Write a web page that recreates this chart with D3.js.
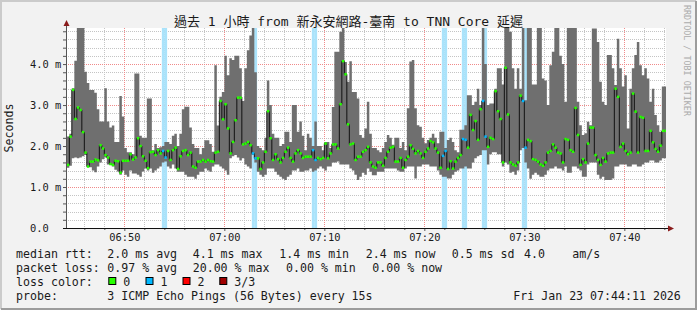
<!DOCTYPE html>
<html>
<head>
<meta charset="utf-8">
<script src="https://cdn.jsdelivr.net/npm/d3@7"></script>
<style>
    body { margin: 0; background: #fff; }
    text { font-family: "DejaVu Sans Mono", "Noto Sans CJK TC", monospace; fill: #1a1a1a; }
</style>
</head>
<body>
<svg id="chart" width="697" height="310"></svg>
<script>
// time window and probe step
var windowStart = new Date(Date.UTC(2026, 0, 23, 6, 44, 10));
var windowEnd = new Date(Date.UTC(2026, 0, 23, 7, 44, 10));
var firstStep = new Date(Date.UTC(2026, 0, 23, 6, 44, 15));
var stepSeconds = 15;

// median rtt per step (ms)
var medianMs = [
    1.54, 2.23, 3.37, 2.66, 2.94, 2.88, 2.34, 1.84, 1.50, 1.62, 1.62, 1.67, 1.65, 2.02, 1.94, 1.78, 1.72, 1.56, 1.54, 1.64,
    1.63, 1.35, 1.64, 1.64, 1.64, 1.80, 1.67, 1.72, 2.19, 2.00, 1.75, 1.64, 1.46, 1.85, 1.86, 1.78, 1.90, 1.82, 1.88, 1.72,
    1.88, 1.66, 1.90, 1.96, 1.44, 1.75, 1.88, 1.90, 1.78, 1.84, 1.50, 1.47, 1.62, 1.62, 1.66, 1.62, 1.66, 1.63, 1.62, 1.84,
    1.86, 3.10, 2.65, 3.02, 2.43, 1.82, 2.10, 2.63, 3.18, 3.18, 2.04, 2.06, 2.10, 2.02, 1.82, 1.70, 1.70, 1.44, 1.60, 1.86,
    2.85, 2.19, 1.66, 1.80, 1.68, 1.60, 1.71, 1.86, 1.96, 1.71, 1.62, 1.82, 1.90, 1.82, 1.71, 1.74, 1.74, 1.74, 1.90, 1.66,
    1.71, 1.68, 1.71, 2.06, 1.70, 1.82, 2.04, 2.04, 1.94, 3.02, 4.07, 3.75, 2.53, 2.04, 2.06, 1.66, 1.74, 1.74, 1.86, 1.90,
    1.98, 1.60, 1.50, 1.47, 1.60, 1.60, 1.52, 1.71, 1.86, 1.96, 1.98, 1.62, 1.62, 1.71, 1.47, 1.66, 1.74, 2.02, 1.93, 1.82,
    1.88, 1.82, 1.71, 1.86, 1.94, 2.12, 2.09, 1.94, 1.84, 1.47, 1.76, 1.88, 1.44, 1.63, 1.45, 1.62, 1.71, 1.78, 2.17, 2.15,
    1.96, 2.76, 2.39, 2.61, 2.15, 2.90, 3.10, 2.23, 1.98, 2.20, 2.17, 3.34, 2.85, 2.66, 1.60, 3.91, 2.77, 1.60, 1.55, 1.52,
    1.60, 3.23, 3.10, 1.96, 2.15, 2.12, 1.68, 1.66, 1.62, 1.55, 1.52, 1.60, 1.84, 1.88, 2.04, 1.96, 1.84, 1.82, 1.60, 2.17,
    2.15, 1.90, 1.86, 2.93, 2.27, 1.54, 1.68, 1.60, 2.06, 2.45, 2.45, 1.78, 1.66, 1.54, 1.71, 1.62, 1.82, 1.84, 1.84, 3.40,
    3.20, 1.98, 2.06, 1.88, 1.80, 1.84, 3.28, 2.84, 1.84, 2.71, 2.69, 1.88, 1.88, 2.37, 2.09, 1.93, 1.86, 2.01, 2.37, 2.37
];
// fastest ping per step (ms)
var minMs = [
    1.47, 1.52, 1.70, 1.72, 1.70, 1.72, 1.75, 1.78, 1.50, 1.48, 1.40, 1.36, 1.50, 1.60, 1.68, 1.72, 1.55, 1.55, 1.50, 1.42,
    1.38, 1.30, 1.40, 1.30, 1.25, 1.40, 1.33, 1.33, 1.30, 1.25, 1.38, 1.45, 1.40, 1.45, 1.35, 1.40, 1.45, 1.50, 1.60, 1.62,
    1.50, 1.45, 1.55, 1.45, 1.37, 1.37, 1.37, 1.30, 1.25, 1.25, 1.25, 1.20, 1.30, 1.37, 1.37, 1.45, 1.40, 1.37, 1.50, 1.55,
    1.55, 1.50, 1.45, 1.40, 1.30, 1.70, 1.75, 1.78, 1.72, 1.65, 1.70, 1.55, 1.50, 1.45, 1.78, 1.60, 1.37, 1.30, 1.25, 1.30,
    1.45, 1.45, 1.45, 1.37, 1.30, 1.25, 1.20, 1.17, 1.25, 1.30, 1.40, 1.40, 1.45, 1.37, 1.37, 1.40, 1.40, 1.45, 1.37, 1.40,
    1.45, 1.50, 1.45, 1.40, 1.50, 1.50, 1.60, 1.60, 1.62, 1.55, 1.55, 1.55, 1.55, 1.45, 1.40, 1.30, 1.17, 1.25, 1.35, 1.30,
    1.45, 1.37, 1.29, 1.29, 1.37, 1.37, 1.37, 1.45, 1.45, 1.45, 1.45, 1.45, 1.40, 1.37, 1.37, 1.45, 1.50, 1.50, 1.50, 1.21,
    1.50, 1.50, 1.55, 1.55, 1.55, 1.50, 1.50, 1.50, 1.40, 1.30, 1.25, 1.25, 1.21, 1.21, 1.30, 1.37, 1.40, 1.45, 1.45, 1.50,
    1.45, 1.45, 1.60, 1.70, 1.75, 1.78, 1.90, 1.90, 1.55, 1.80, 1.85, 1.85, 1.80, 1.80, 1.50, 1.60, 1.55, 1.35, 1.37, 1.30,
    1.40, 1.90, 1.95, 1.60, 1.45, 1.20, 1.30, 1.35, 1.30, 1.25, 1.25, 1.30, 1.40, 1.45, 1.45, 1.50, 1.45, 1.45, 1.40, 1.50,
    1.35, 1.35, 1.50, 1.50, 1.45, 1.40, 1.25, 1.25, 1.55, 1.60, 1.60, 1.60, 1.30, 1.20, 1.25, 1.17, 1.17, 1.17, 1.21, 1.50,
    1.50, 1.55, 1.55, 1.55, 1.50, 1.50, 1.55, 1.55, 1.50, 1.50, 1.55, 1.60, 1.60, 1.65, 1.65, 1.60, 1.60, 1.65, 1.70, 1.70
];
// slowest ping per step (ms)
var maxMs = [
    2.23, 2.30, 3.41, 4.08, 4.88, 4.88, 4.88, 3.81, 3.54, 3.37, 3.37, 3.30, 2.90, 2.60, 2.60, 3.41, 2.60, 2.45, 2.50, 2.10,
    2.10, 3.22, 2.72, 1.95, 1.85, 1.85, 1.80, 3.77, 3.77, 2.25, 2.20, 2.20, 3.16, 3.16, 1.90, 2.05, 1.95, 1.97, 2.00, 2.10,
    2.10, 2.05, 2.25, 2.30, 2.00, 2.30, 2.90, 2.96, 2.96, 2.45, 2.05, 1.95, 1.95, 1.80, 1.95, 2.14, 2.14, 2.05, 1.86, 3.97,
    2.50, 3.20, 3.32, 4.20, 3.73, 4.14, 4.10, 4.20, 4.20, 3.90, 3.10, 3.90, 4.34, 4.70, 4.88, 3.80, 2.00, 1.95, 1.90, 2.20,
    3.60, 3.00, 2.30, 2.20, 2.20, 2.00, 2.05, 2.35, 2.35, 2.10, 3.00, 3.00, 2.35, 2.60, 2.25, 1.90, 2.30, 2.20, 2.00, 2.60,
    2.00, 2.00, 1.90, 2.10, 2.10, 1.95, 2.95, 4.30, 4.30, 4.79, 4.88, 4.05, 3.57, 4.07, 3.32, 3.32, 3.16, 2.27, 2.20, 2.43,
    3.08, 2.30, 1.95, 1.95, 1.90, 1.85, 1.95, 2.10, 2.27, 2.20, 2.03, 2.20, 2.20, 1.95, 2.10, 1.90, 2.92, 4.06, 4.10, 2.92,
    2.51, 2.47, 2.20, 2.07, 2.15, 2.20, 2.30, 2.20, 2.07, 2.35, 2.35, 1.95, 2.15, 2.20, 2.10, 1.90, 1.85, 2.40, 2.40, 2.51,
    3.24, 3.24, 3.00, 3.08, 3.40, 3.00, 4.88, 4.00, 3.00, 3.04, 3.04, 3.40, 3.90, 3.90, 3.50, 4.88, 4.88, 4.79, 3.90, 3.40,
    3.90, 3.40, 4.88, 3.12, 4.88, 4.88, 3.50, 3.50, 4.88, 4.88, 3.65, 3.60, 3.00, 3.97, 4.30, 4.88, 4.88, 4.20, 4.00, 3.08,
    4.88, 4.88, 4.88, 4.88, 3.08, 2.51, 2.27, 2.31, 2.59, 2.51, 4.87, 4.87, 4.54, 3.57, 3.08, 3.00, 4.22, 4.22, 3.90, 3.49,
    4.62, 3.90, 3.45, 3.73, 2.43, 3.40, 3.90, 4.22, 4.54, 3.97, 3.73, 3.90, 3.65, 3.08, 3.40, 2.76, 2.51, 2.35, 3.45, 3.45
];
// steps where one of three pings was lost
var lossSteps = [38, 39, 74, 75, 98, 99, 150, 151, 158, 159, 166, 167, 182, 183];

var yTicks = [0, 1, 2, 3, 4];
var titleText = "過去 1 小時 from 新永安網路-臺南 to TNN Core 延遲";
var rttLegend = ["median rtt:", "2.0 ms avg", "4.1 ms max", "1.4 ms min", "2.4 ms now", "0.5 ms sd", "4.0", "am/s"];
var lossLegend = ["packet loss:", "0.97 % avg", "20.00 % max", "0.00 % min", "0.00 % now"];
var lossColorNames = ["0", "1", "2", "3/3"];
var lossColors = ["#26ff00", "#00b8ff", "#ff0000", "#a00000"];
var probeText = "3 ICMP Echo Pings (56 Bytes) every 15s";
var stampText = "Fri Jan 23 07:44:11 2026";

var svg = d3.select("#chart");
var plotLeft = 66, plotRight = 666, plotTop = 28, plotBottom = 228;

var x = d3.scaleUtc().domain([windowStart, windowEnd]).range([plotLeft, plotRight]);
var y = d3.scaleLinear().domain([0, 4.88]).range([plotBottom, plotTop]);

var steps = medianMs.map(function (m, i) {
    var t0 = d3.utcSecond.offset(firstStep, i * stepSeconds);
    return {
        i: i,
        t0: t0,
        t1: d3.utcSecond.offset(t0, stepSeconds),
        median: m,
        min: minMs[i],
        max: maxMs[i],
        loss: lossSteps.indexOf(i) >= 0 ? 1 : 0
    };
});
// extra point so the last step gets its full width in the step curves
var stepEdges = steps.concat([{
    t0: steps[steps.length - 1].t1,
    median: steps[steps.length - 1].median,
    min: steps[steps.length - 1].min,
    max: steps[steps.length - 1].max
}]);

// background and frame
svg.append("rect").attr("width", 697).attr("height", 310).attr("fill", "#f2f2f2");
svg.append("path").attr("d", "M1,309 V1 H696").attr("fill", "none").attr("stroke", "#cbcbcb").attr("stroke-width", 2);
svg.append("path").attr("d", "M1,309 H696 V1").attr("fill", "none").attr("stroke", "#9c9c9c").attr("stroke-width", 2);
svg.append("rect").attr("x", plotLeft).attr("y", plotTop)
    .attr("width", plotRight - plotLeft).attr("height", plotBottom - plotTop).attr("fill", "#fff");

svg.append("clipPath").attr("id", "plotClip")
    .append("rect").attr("x", plotLeft).attr("y", plotTop)
    .attr("width", plotRight - plotLeft).attr("height", plotBottom - plotTop);

// grid
var grid = svg.append("g").attr("clip-path", "url(#plotClip)");
var minorY = d3.range(1, 25).map(function (d) { return d * 0.2; })
    .filter(function (d) { return Math.abs(d - Math.round(d)) > 0.01; });
var minorX = d3.utcMinute.every(2).range(windowStart, windowEnd)
    .filter(function (d) { return d.getUTCMinutes() % 10 !== 0; });
var majorX = d3.utcMinute.every(10).range(windowStart, windowEnd);

var hLine = function (sel, color) {
    sel.attr("x1", plotLeft).attr("x2", plotRight)
        .attr("y1", function (d) { return Math.round(y(d)) + 0.5; })
        .attr("y2", function (d) { return Math.round(y(d)) + 0.5; })
        .attr("stroke", color).attr("stroke-dasharray", "1,1");
};
var vLine = function (sel, color) {
    sel.attr("y1", plotTop).attr("y2", plotBottom)
        .attr("x1", function (d) { return Math.round(x(d)) + 0.5; })
        .attr("x2", function (d) { return Math.round(x(d)) + 0.5; })
        .attr("stroke", color).attr("stroke-dasharray", "1,1");
};
grid.selectAll("line.minorY").data(minorY).enter().append("line").call(hLine, "#c4c4c4");
grid.selectAll("line.minorX").data(minorX).enter().append("line").call(vLine, "#c4c4c4");
grid.selectAll("line.majorY").data(yTicks.slice(1)).enter().append("line").call(hLine, "#f08a8a");
grid.selectAll("line.majorX").data(majorX).enter().append("line").call(vLine, "#f08a8a");

var plot = svg.append("g").attr("clip-path", "url(#plotClip)");

// loss bands behind the smoke
plot.selectAll("rect.loss")
    .data(steps.filter(function (d) { return d.loss > 0; }))
    .enter().append("rect")
    .attr("x", function (d) { return x(d.t0); })
    .attr("width", function (d) { return x(d.t1) - x(d.t0) + 0.3; })
    .attr("y", plotTop).attr("height", plotBottom - plotTop)
    .attr("fill", "#aae3fb");

// smoke: one stepped band from fastest to slowest ping
var smokeArea = d3.area()
    .x(function (d) { return x(d.t0); })
    .y0(function (d) { return y(d.min); })
    .y1(function (d) { return y(d.max); })
    .curve(d3.curveStepAfter);
plot.append("path")
    .attr("d", smokeArea(stepEdges))
    .attr("fill", "#6f6f6f");

// median line
var medianLine = d3.line()
    .x(function (d) { return x(d.t0); })
    .y(function (d) { return y(d.median); })
    .curve(d3.curveStepAfter);
plot.append("path")
    .attr("d", medianLine(stepEdges))
    .attr("fill", "none")
    .attr("stroke", "#111")
    .attr("stroke-width", 1);
plot.selectAll("rect.median")
    .data(steps)
    .enter().append("rect")
    .attr("x", function (d) { return x(d.t0); })
    .attr("width", function (d) { return x(d.t1) - x(d.t0); })
    .attr("y", function (d) { return y(d.median) - 1.25; })
    .attr("height", 2.5)
    .attr("fill", function (d) { return lossColors[d.loss]; });

// axes
var yAxisTicks = d3.range(0, 25).map(function (d) { return d * 0.2; });
var yAxis = svg.append("g")
    .attr("transform", "translate(" + plotLeft + ",0)")
    .call(d3.axisLeft(y).tickValues(yAxisTicks).tickSize(3).tickFormat(function (d) {
        if (Math.abs(d - Math.round(d)) > 0.01) { return ""; }
        return d === 0 ? "0.0" : d3.format(".1f")(d) + " m";
    }));
yAxis.select(".domain").remove();
yAxis.selectAll(".tick line").attr("stroke", "#555");
yAxis.selectAll(".tick text")
    .attr("x", 30 - plotLeft)
    .attr("text-anchor", "start")
    .attr("font-size", "10.4px")
    .attr("dy", "0.35em");

var xMinorAxis = svg.append("g")
    .attr("transform", "translate(0," + plotBottom + ")")
    .call(d3.axisBottom(x).tickValues(minorX).tickSize(2).tickFormat(""));
xMinorAxis.select(".domain").remove();
xMinorAxis.selectAll(".tick line").attr("stroke", "#555");

var xAxis = svg.append("g")
    .attr("transform", "translate(0," + plotBottom + ")")
    .call(d3.axisBottom(x).tickValues(majorX).tickSize(3).tickFormat(d3.utcFormat("%H:%M")));
xAxis.select(".domain").remove();
xAxis.selectAll(".tick line").attr("stroke", "#555");
xAxis.selectAll(".tick text")
    .attr("font-size", "10.4px")
    .attr("y", 6);
// d3 axis sets its own font on the group; let the css font win
svg.selectAll("g").attr("font-family", null).attr("font-size", null);

svg.append("line").attr("x1", plotLeft + 0.5).attr("x2", plotLeft + 0.5).attr("y1", plotBottom).attr("y2", 24)
    .attr("stroke", "#555");
svg.append("line").attr("x1", 63).attr("x2", 669).attr("y1", plotBottom + 0.5).attr("y2", plotBottom + 0.5)
    .attr("stroke", "#111").attr("stroke-width", 1.2);
svg.append("path").attr("d", "M63.5,26 L66.5,20 L69.5,26 Z").attr("fill", "#8a1c1c");
svg.append("path").attr("d", "M668,225.5 L674,228.5 L668,231.5 Z").attr("fill", "#8a1c1c");

// texts
svg.append("text").attr("x", 348.5).attr("y", 26).attr("text-anchor", "middle")
    .attr("font-size", "13px").text(titleText);
svg.append("text").attr("transform", "translate(13,128) rotate(-90)").attr("text-anchor", "middle")
    .attr("font-size", "11.6px").text("Seconds");
svg.append("text").attr("transform", "translate(684,5) rotate(90)")
    .attr("font-size", "8.4px").style("fill", "#ababab").text("RRDTOOL / TOBI OETIKER");

var legend = svg.append("g").style("font-size", "11.6px");
var rttX = [16, 107.3, 192.7, 279.3, 365.7, 451.7, 524, 572.3];
legend.selectAll("text.rtt").data(rttLegend).enter().append("text")
    .attr("x", function (d, i) { return rttX[i]; }).attr("y", 258).text(function (d) { return d; });
var lossX = [16, 107.3, 192.7, 286, 372.3];
legend.selectAll("text.loss").data(lossLegend).enter().append("text")
    .attr("x", function (d, i) { return lossX[i]; }).attr("y", 272).text(function (d) { return d; });
legend.append("text").attr("x", 16).attr("y", 286).text("loss color:");
var boxX = [108.3, 145.5, 182.5, 219.3];
legend.selectAll("rect.box").data(lossColors).enter().append("rect")
    .attr("x", function (d, i) { return boxX[i] + 0.5; }).attr("y", 277.5)
    .attr("width", 7).attr("height", 7)
    .attr("fill", function (d) { return d; }).attr("stroke", "#000").attr("stroke-width", 1);
legend.selectAll("text.lc").data(lossColorNames).enter().append("text")
    .attr("x", function (d, i) { return boxX[i] + 15; }).attr("y", 286).text(function (d) { return d; });
legend.append("text").attr("x", 16).attr("y", 300).text("probe:");
legend.append("text").attr("x", 107.3).attr("y", 300).text(probeText);
legend.append("text").attr("x", 513.3).attr("y", 300).text(stampText);
</script>
</body>
</html>
